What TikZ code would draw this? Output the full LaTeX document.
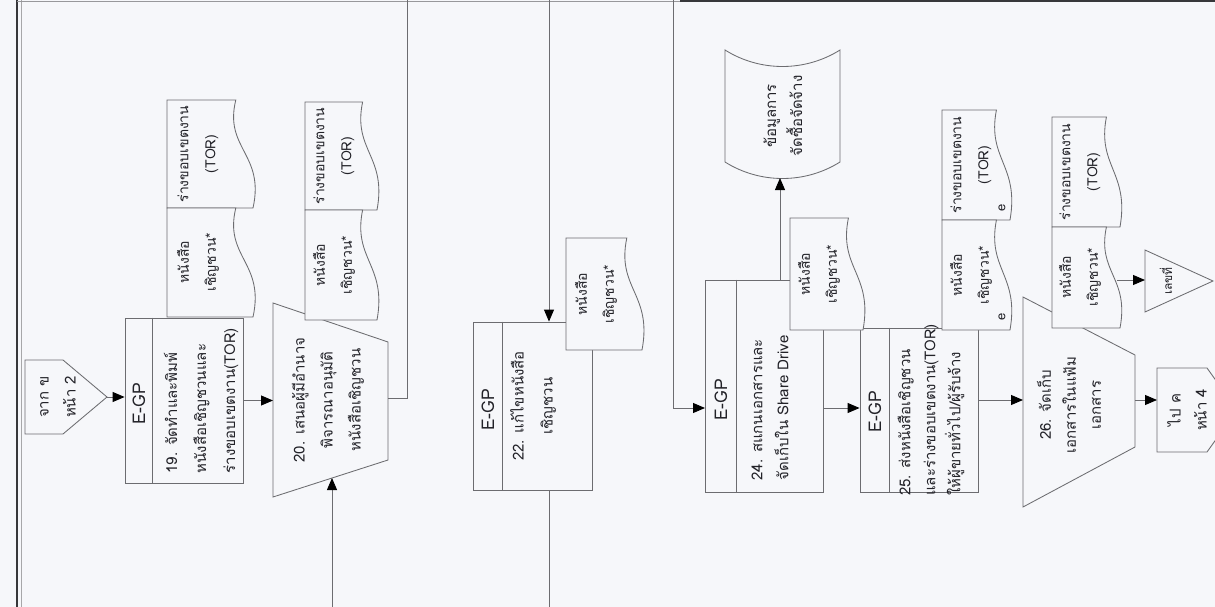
\documentclass[tikz,border=0pt]{standalone}
\usepackage{fontspec}
\setmainfont{Loma}[Script=Thai]
\usetikzlibrary{arrows.meta,calc}
\definecolor{bg}{RGB}{246,247,250}
\definecolor{ln}{RGB}{108,108,112}
\definecolor{tx}{RGB}{34,34,40}
\definecolor{fr}{RGB}{55,55,58}

% document symbol lying on its side: straight left, top and bottom, wavy right edge
\newcommand{\docshape}[4]{%
  \draw[shp,fill=bg] (#1,#2) -- ({#1+0.8*(#3-#1)},#2)
    .. controls ({#1+0.66*(#3-#1)},{#2+0.45*(#4-#2)}) and ({#1+1.14*(#3-#1)},{#2+0.5*(#4-#2)}) .. (#3,#4)
    -- (#1,#4) -- cycle;}
% fixed line pitch for Thai text with stacked marks
\newcommand{\thaisize}[2]{\fontsize{#1}{#2}\selectfont\lineskiplimit=-100pt\lineskip=0pt}

\begin{document}
\begin{tikzpicture}[x=1pt,y=-1pt,
  shp/.style={draw=ln,line width=0.85pt},
  conn/.style={draw=ln,line width=0.85pt},
  arr/.style={conn,-{Triangle[length=12pt,width=10pt,color=black]}},
  egp/.style={shp,fill=bg,rectangle,inner sep=0pt},
  lbl/.style={text=tx,rotate=90,align=center,inner sep=0pt,font=\thaisize{15}{29}},
  lbll/.style={lbl,align=left},
  dlbl/.style={lbl,font=\thaisize{14}{27}},
  tag/.style={text=tx,rotate=90,inner sep=0pt,font=\thaisize{17.5}{19}}]

\clip (0,0) rectangle (1215,607);
\fill[bg] (0,0) rectangle (1215,607);

% page frame
\draw[fr,line width=1.3pt] (17,0) -- (17,607);
\draw[ln!60,line width=0.5pt] (21,0) -- (21,607);
\draw[ln!70,line width=0.6pt] (17,1.5) -- (680,1.5);
\draw[fr,line width=1.4pt] (680,1) -- (1215,1);

% free ends of the lane connectors
\coordinate (top407) at (407,0);
\coordinate (top549) at (549,0);
\coordinate (top673) at (673,0);
\coordinate (bot332) at (332,607);
\coordinate (bot549) at (549,607);

% ---- off-page connector from page 2
\draw[shp,fill=bg] (25,360) -- (63,360) -- (107,397) -- (63,434) -- (25,434) -- cycle;
\coordinate (p2tip) at (107,397);
\node[lbl,font=\thaisize{15}{27}] (p2txt) at (58,397) {จาก ข\\หน้า 2};

% ---- step 19
\node[egp,minimum width=118pt,minimum height=165pt] (b19) at (184,400.5) {};
\draw[shp] ($(b19.north west)+(28,0)$) -- ($(b19.south west)+(28,0)$);
\node[tag] (b19g) at (139,404) {E-GP};
\node[lbll] (b19t) at (201,401) {19. จัดทำและพิมพ์\\หนังสือเชิญชวนและ\\ร่างขอบเขตงาน(TOR)};
\docshape{167}{100}{253}{208}
\docshape{167}{208}{253}{317}
\node[dlbl] (d19b) at (198,154) {ร่างขอบเขตงาน\\(TOR)};
\node[dlbl] (d19a) at (198,262) {หนังสือ\\เชิญชวน*};

% ---- step 20
\draw[shp,fill=bg] (273,303) -- (388,342) -- (388,460) -- (273,497) -- cycle;
\coordinate (t20w) at (273,400.5);
\coordinate (t20e) at (388,398);
\coordinate (t20s) at (332,478);
\node[lbl,font=\thaisize{15}{28}] (t20t) at (328,400) {20. เสนอผู้มีอำนาจ\\พิจารณาอนุมัติ\\หนังสือเชิญชวน};
\docshape{305}{102}{377}{210}
\docshape{305}{210}{377}{320}
\node[dlbl] (d20b) at (334,156) {ร่างขอบเขตงาน\\(TOR)};
\node[dlbl] (d20a) at (334,265) {หนังสือ\\เชิญชวน*};

% ---- step 22
\node[egp,minimum width=119pt,minimum height=168pt] (b22) at (532.5,406) {};
\draw[shp] ($(b22.north west)+(30,0)$) -- ($(b22.south west)+(30,0)$);
\node[tag] (b22g) at (488,410) {E-GP};
\node[lbl] (b22t) at (533,406) {22. แก้ไขหนังสือ\\เชิญชวน};
\docshape{566}{238}{642}{350}
\node[dlbl] (d22) at (596,294) {หนังสือ\\เชิญชวน*};

% ---- stored data
\draw[shp,fill=bg] (725,50) .. controls (760,72) and (805,72) .. (840,50)
  -- (840,162) .. controls (805,184) and (760,184) .. (725,162) -- cycle;
\coordinate (dsb) at (780,178);
\node[lbl,font=\thaisize{15}{26}] (dst) at (783,116) {ข้อมูลการ\\จัดซื้อจัดจ้าง};

% ---- step 24
\node[egp,minimum width=118pt,minimum height=212pt] (b24) at (764,386) {};
\draw[shp] ($(b24.north west)+(32,0)$) -- ($(b24.south west)+(32,0)$);
\node[tag] (b24g) at (721,400) {E-GP};
\node[lbll,font=\thaisize{15}{26}] (b24t) at (770,408) {24. สแกนเอกสารและ\\จัดเก็บใน Share Drive};
\coordinate (in24) at (705,408);

% ---- step 25
\node[egp,minimum width=118pt,minimum height=164pt] (b25) at (919,410) {};
\draw[shp] ($(b25.north west)+(30,0)$) -- ($(b25.south west)+(30,0)$);
\node[tag] (b25g) at (875,412) {E-GP};
\node[lbll,font=\thaisize{15}{25}] (b25t) at (931,410) {25. ส่งหนังสือเชิญชวน\\และร่างขอบเขตงาน(TOR)\\ให้ผู้ขายทั่วไป/ผู้รับจ้าง};
\docshape{790}{218}{863}{330}
\node[dlbl] (d24) at (819,274) {หนังสือ\\เชิญชวน*};
\docshape{942}{110}{1010}{220}
\docshape{942}{220}{1010}{330}
\node[dlbl] (d25b) at (971,165) {ร่างขอบเขตงาน\\(TOR)};
\node[dlbl] (d25a) at (971,275) {หนังสือ\\เชิญชวน*};
\node[tag,font=\thaisize{13}{14}] (e1) at (1002,208) {e};
\node[tag,font=\thaisize{13}{14}] (e2) at (1002,317) {e};

% ---- step 26
\draw[shp,fill=bg] (1023,297) -- (1135,355) -- (1135,447) -- (1023,507) -- cycle;
\coordinate (t26w) at (1023,400);
\coordinate (t26e) at (1135,400);
\node[lbl,font=\thaisize{15}{25}] (t26t) at (1069,405) {26. จัดเก็บ\\เอกสารในแฟ้ม\\เอกสาร};
\docshape{1052}{117}{1120}{227}
\docshape{1052}{227}{1120}{328}
\node[dlbl] (d26b) at (1080,172) {ร่างขอบเขตงาน\\(TOR)};
\node[dlbl] (d26a) at (1080,277) {หนังสือ\\เชิญชวน*};
\coordinate (d26out) at (1117,280);

% ---- filing triangle
\draw[shp,fill=bg] (1145,250) -- (1213,281) -- (1145,312) -- cycle;
\coordinate (trw) at (1145,280);
\node[tag,font=\thaisize{12}{14}] (trt) at (1166,281) {เลขที่};

% ---- off-page connector to page 4
\draw[shp,fill=bg] (1157,368) -- (1207,368) -- (1237,410) -- (1207,452) -- (1157,452) -- cycle;
\coordinate (p4w) at (1157,400);
\node[lbl,font=\thaisize{15}{26}] (p4t) at (1187,410) {ไป ค\\หน้า 4};

% ---- connectors
\draw[arr] (p2tip) -- (p2tip -| b19.west);
\draw[arr] (b19.east) -- (t20w);
\draw[conn] (t20e) -| (top407);
\draw[arr] (bot332) -- (t20s);
\draw[arr] (top549) -- (top549 |- b22.north);
\draw[conn] (top549 |- b22.south) -- (bot549);
\draw[arr] (top673) |- (in24);
\draw[arr] (dsb |- b24.north) -- (dsb);
\draw[arr] (b24.east |- in24) -- (b25.west |- in24);
\draw[arr] (b25.east |- t26w) -- (t26w);
\draw[arr] (d26out) -- (trw);
\draw[arr] (t26e) -- (p4w);
\end{tikzpicture}
\end{document}
